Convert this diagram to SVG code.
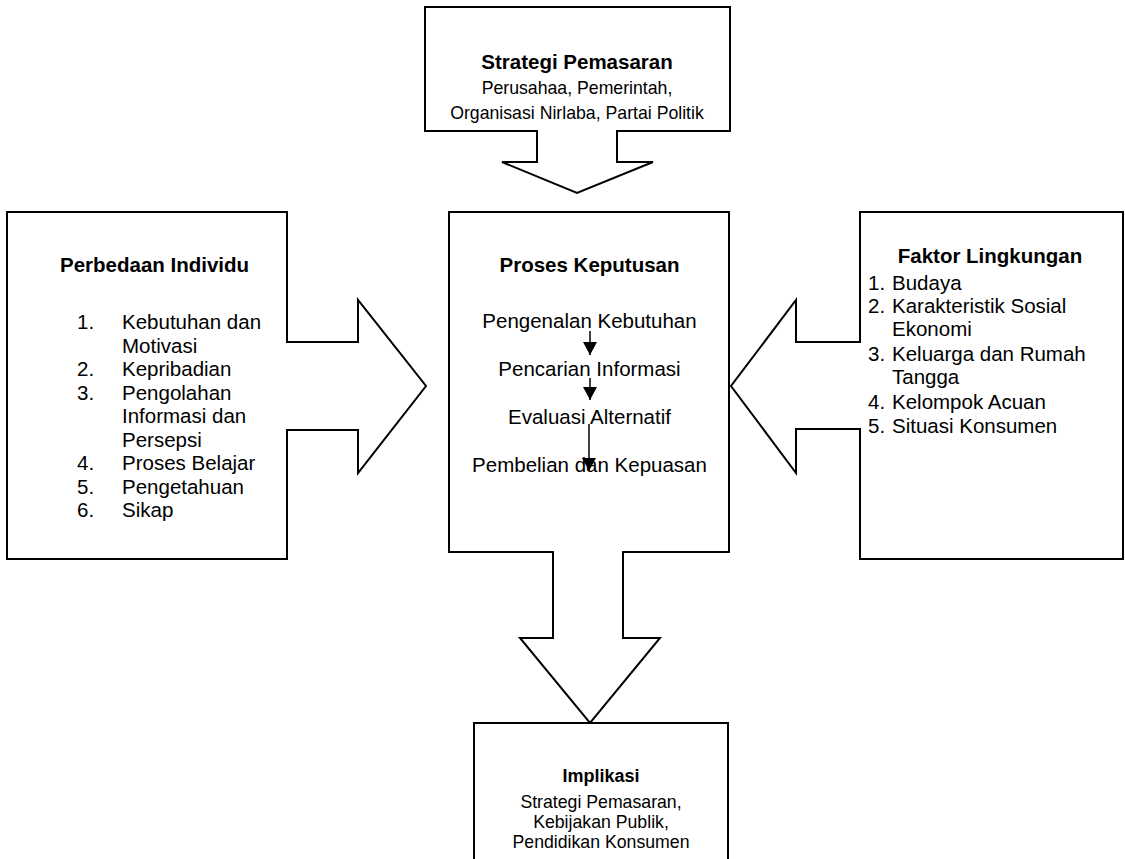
<svg xmlns="http://www.w3.org/2000/svg" width="1125" height="859" viewBox="0 0 1125 859">
<defs>
<style>
.shape{fill:#fff;stroke:#000;stroke-width:2;stroke-linejoin:miter}
text{font-family:"Liberation Sans",Arial,sans-serif;fill:#000}
.t{font-size:20.5px}
.b{font-weight:bold}
.s{font-size:17.7px}
.c{text-anchor:middle}
.link{stroke:#000;stroke-width:1.5;fill:none}
</style>
<marker id="ah" markerUnits="userSpaceOnUse" markerWidth="13" markerHeight="14" viewBox="0 0 13 14" refX="13" refY="7" orient="auto">
<path d="M0,0 L13,7 L0,14 Z" fill="#000"/>
</marker>
</defs>
<rect x="0" y="0" width="1125" height="859" fill="#fff"/>

<g id="strategi-pemasaran">
<path class="shape" d="M425,7 H730 V131 H617 V162 H653 L577,193 L502,162 H537 V131 H425 Z"/>
<text class="t b c" x="577" y="69">Strategi Pemasaran</text>
<text class="s c" x="577" y="94">Perusahaa, Pemerintah,</text>
<text class="s c" x="577" y="119">Organisasi Nirlaba, Partai Politik</text>
</g>

<g id="perbedaan-individu">
<path class="shape" d="M7,212 H287 V342 H358 V300 L426,386 L358,473 V430 H287 V559 H7 Z"/>
<text class="t b" x="60" y="272">Perbedaan Individu</text>
<g class="t">
<text x="77" y="329">1.</text><text x="122" y="329">Kebutuhan dan</text>
<text x="122" y="352.5">Motivasi</text>
<text x="77" y="376">2.</text><text x="122" y="376">Kepribadian</text>
<text x="77" y="399.5">3.</text><text x="122" y="399.5">Pengolahan</text>
<text x="122" y="423">Informasi dan</text>
<text x="122" y="446.5">Persepsi</text>
<text x="77" y="470">4.</text><text x="122" y="470">Proses Belajar</text>
<text x="77" y="493.5">5.</text><text x="122" y="493.5">Pengetahuan</text>
<text x="77" y="517">6.</text><text x="122" y="517">Sikap</text>
</g>
</g>

<g id="proses-keputusan">
<path class="shape" d="M449,212 H729 V552 H623 V638 H660 L590,723 L520,638 H553 V552 H449 Z"/>
<text class="t b c" x="589.5" y="272">Proses Keputusan</text>
<text class="t c" x="589.5" y="328">Pengenalan Kebutuhan</text>
<text class="t c" x="589.5" y="376">Pencarian Informasi</text>
<text class="t c" x="589.5" y="424">Evaluasi Alternatif</text>
<text class="t c" x="589.5" y="472">Pembelian dan Kepuasan</text>
</g>

<g id="faktor-lingkungan">
<path class="shape" d="M860,212 H1123 V559 H860 V429 H796 V473 L731,386 L796,300 V342 H860 Z"/>
<text class="t b c" x="990" y="263">Faktor Lingkungan</text>
<g class="t">
<text x="868" y="290">1.</text><text x="892" y="290">Budaya</text>
<text x="868" y="313">2.</text><text x="892" y="313">Karakteristik Sosial</text>
<text x="892" y="336">Ekonomi</text>
<text x="868" y="361">3.</text><text x="892" y="361">Keluarga dan Rumah</text>
<text x="892" y="384">Tangga</text>
<text x="868" y="409">4.</text><text x="892" y="409">Kelompok Acuan</text>
<text x="868" y="433">5.</text><text x="892" y="433">Situasi Konsumen</text>
</g>
</g>

<g id="implikasi">
<rect class="shape" x="474" y="723" width="254" height="160"/>
<text class="b c" style="font-size:18px" x="601" y="782">Implikasi</text>
<text class="s c" x="601" y="808">Strategi Pemasaran,</text>
<text class="s c" x="601" y="828">Kebijakan Publik,</text>
<text class="s c" x="601" y="848">Pendidikan Konsumen</text>
</g>

<g id="connectors">
<line class="link" x1="590" y1="331" x2="590" y2="355" marker-end="url(#ah)"/>
<line class="link" x1="590" y1="378" x2="590" y2="400" marker-end="url(#ah)"/>
<line class="link" x1="589" y1="424" x2="589" y2="471" marker-end="url(#ah)"/>
</g>
</svg>
